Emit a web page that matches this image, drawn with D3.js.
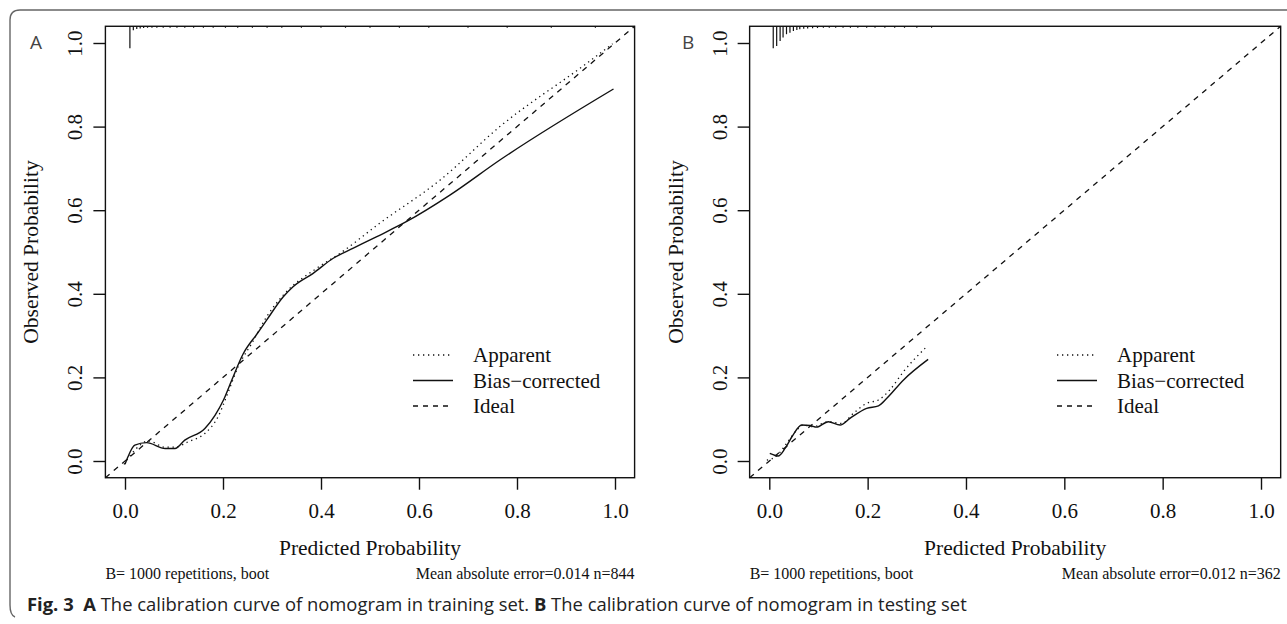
<!DOCTYPE html>
<html lang="en">
<head>
  <meta charset="UTF-8">
  <title>Calibration curves</title>
  <script src="https://d3js.org/d3.v7.min.js"></script>
  <style>
    body { margin: 0; background: #fff; }
    svg { display: block; }
  </style>
</head>
<body>
  <svg id="chart" width="1287" height="624"></svg>

  <script>
    // ---- data ----
    const ticks = [0, 0.2, 0.4, 0.6, 0.8, 1.0];
    const legendLabels = ['Apparent', 'Bias\u2212corrected', 'Ideal'];

    // panel A (training set)
    const apparentA = [
      [-0.002, -0.008], [0.020, 0.026], [0.048, 0.048], [0.082, 0.033], [0.102, 0.033],
      [0.129, 0.046], [0.163, 0.066], [0.190, 0.106], [0.211, 0.166], [0.231, 0.226],
      [0.259, 0.282], [0.289, 0.345], [0.323, 0.397], [0.391, 0.461], [0.439, 0.497],
      [0.520, 0.569], [0.643, 0.672], [0.765, 0.800], [0.942, 0.951], [0.995, 0.998]
    ];
    const biasA = [
      [0.000, -0.008], [0.006, 0.010], [0.020, 0.038], [0.044, 0.044], [0.082, 0.030],
      [0.102, 0.030], [0.122, 0.050], [0.163, 0.078], [0.184, 0.110], [0.201, 0.146],
      [0.218, 0.194], [0.241, 0.256], [0.270, 0.305], [0.289, 0.337], [0.323, 0.393],
      [0.343, 0.417], [0.384, 0.449], [0.425, 0.485], [0.466, 0.509], [0.514, 0.537],
      [0.575, 0.573], [0.663, 0.636], [0.765, 0.720], [0.997, 0.890]
    ];
    const rugA = [
      [0.010, 100], [0.017, 18], [0.024, 12], [0.031, 10], [0.038, 8], [0.046, 6],
      [0.055, 5], [0.065, 5], [0.078, 4], [0.092, 4], [0.106, 4], [0.122, 3],
      [0.140, 3], [0.160, 3], [0.180, 3], [0.205, 3], [0.230, 3], [0.260, 3],
      [0.290, 3], [0.320, 3], [0.360, 3], [0.400, 3], [0.450, 3], [0.500, 3],
      [0.560, 3], [0.620, 3], [0.700, 3], [0.780, 3], [0.870, 3], [0.960, 3]
    ];
    const footA = ['B= 1000 repetitions, boot', 'Mean absolute error=0.014 n=844'];

    // panel B (testing set)
    const apparentB = [
      [-0.005, 0.002], [0.015, 0.012], [0.035, 0.042], [0.056, 0.074], [0.069, 0.086],
      [0.089, 0.082], [0.120, 0.094], [0.147, 0.090], [0.171, 0.114], [0.198, 0.138],
      [0.222, 0.146], [0.245, 0.170], [0.273, 0.214], [0.317, 0.270]
    ];
    const biasB = [
      [0.001, 0.018], [0.018, 0.012], [0.032, 0.030], [0.046, 0.058], [0.066, 0.086],
      [0.083, 0.085], [0.096, 0.081], [0.120, 0.094], [0.144, 0.086], [0.164, 0.102],
      [0.198, 0.126], [0.222, 0.132], [0.239, 0.150], [0.273, 0.194], [0.323, 0.243]
    ];
    const rugB = [
      [0.008, 100], [0.015, 90], [0.022, 67], [0.028, 51], [0.035, 36], [0.042, 29],
      [0.049, 21], [0.056, 17], [0.062, 14], [0.070, 11], [0.078, 10], [0.088, 9],
      [0.098, 8], [0.110, 7], [0.122, 7], [0.135, 6], [0.150, 6], [0.165, 5],
      [0.180, 5], [0.198, 5], [0.215, 4], [0.235, 4], [0.255, 4], [0.275, 4],
      [0.300, 4], [0.330, 4]
    ];
    const footB = ['B= 1000 repetitions, boot', 'Mean absolute error=0.012 n=362'];

    const captionParts = [
      { t: 'Fig. 3', b: true }, { t: '\u00a0\u00a0A', b: true },
      { t: ' The calibration curve of nomogram in training set. ', b: false },
      { t: 'B', b: true }, { t: ' The calibration curve of nomogram in testing set', b: false }
    ];

    const svg = d3.select('#chart');
    const serif = '"Liberation Serif", "Times New Roman", serif';
    const ink = '#111';

    // outer frame (rounded, cut off on the right)
    svg.append('path')
      .attr('d', 'M15,617 Q10,615 10,605 L10,20 Q10,10 20,10 L1300,10')
      .attr('fill', 'none').attr('stroke', '#666').attr('stroke-width', 1.4);

    function drawPanel(opt) {
      const x = d3.scaleLinear().domain([0, 1]).range([opt.x0, opt.x1]);
      const y = d3.scaleLinear().domain([0, 1]).range([461, 43]);
      const lo = -0.04, hi = 1.04;
      const g = svg.append('g');

      // axes
      const xa = g.append('g')
        .attr('transform', `translate(0,${y(lo)})`)
        .call(d3.axisBottom(x).tickValues(ticks).tickSize(12).tickFormat(d3.format('.1f')));
      const ya = g.append('g')
        .attr('transform', `translate(${x(lo)},0)`)
        .call(d3.axisLeft(y).tickValues(ticks).tickSize(12).tickFormat(d3.format('.1f')));
      [xa, ya].forEach(a => {
        a.select('.domain').remove();
        a.selectAll('line').attr('stroke', ink).attr('stroke-width', 1.4);
        a.selectAll('text').attr('fill', ink).style('font-family', serif).style('font-size', '21px');
      });
      xa.selectAll('text').attr('y', 40).attr('dy', 0);
      ya.selectAll('text')
        .attr('x', 0).attr('y', 0).attr('dy', 0)
        .attr('text-anchor', 'middle')
        .attr('transform', 'translate(-23,0) rotate(-90)');

      // box
      g.append('rect')
        .attr('x', x(lo)).attr('y', y(hi))
        .attr('width', x(hi) - x(lo)).attr('height', y(lo) - y(hi))
        .attr('fill', 'none').attr('stroke', ink).attr('stroke-width', 1.4);

      // ideal line
      g.append('line')
        .attr('x1', x(lo)).attr('y1', y(lo)).attr('x2', x(hi)).attr('y2', y(hi))
        .attr('stroke', ink).attr('stroke-width', 1.3).attr('stroke-dasharray', '5.5,5.5');

      const line = d3.line().x(d => x(d[0])).y(d => y(d[1])).curve(d3.curveMonotoneX);
      g.append('path').attr('d', line(opt.apparent))
        .attr('fill', 'none').attr('stroke', ink).attr('stroke-width', 1.3)
        .attr('stroke-dasharray', '1.3,3.7');
      g.append('path').attr('d', line(opt.bias))
        .attr('fill', 'none').attr('stroke', ink).attr('stroke-width', 1.4);

      // rug of predicted probabilities along the top
      const len = d3.scaleLinear().domain([0, 100]).range([0, 22]);
      g.selectAll('line.rug').data(opt.rug).join('line')
        .attr('class', 'rug')
        .attr('x1', d => x(d[0])).attr('x2', d => x(d[0]))
        .attr('y1', y(hi)).attr('y2', d => y(hi) + Math.max(1.5, len(d[1])))
        .attr('stroke', ink).attr('stroke-width', 1.2);

      // legend
      const lg = g.append('g').attr('transform', `translate(${opt.legX},${opt.legY})`);
      const dashes = ['1.3,3.7', null, '5,5'];
      legendLabels.forEach((lab, i) => {
        lg.append('line')
          .attr('x1', 0).attr('x2', 40).attr('y1', i * 25.5).attr('y2', i * 25.5)
          .attr('stroke', ink).attr('stroke-width', 1.3)
          .attr('stroke-dasharray', dashes[i]);
        lg.append('text')
          .attr('x', 60).attr('y', i * 25.5 + 7)
          .style('font-family', serif).style('font-size', '21px').attr('fill', ink)
          .text(lab);
      });

      // axis titles
      g.append('text')
        .attr('x', (x(0) + x(1)) / 2).attr('y', 555)
        .attr('text-anchor', 'middle')
        .style('font-family', serif).style('font-size', '21.5px').attr('fill', ink)
        .text('Predicted Probability');
      g.append('text')
        .attr('transform', `translate(${x(lo) - 67},${(y(lo) + y(hi)) / 2}) rotate(-90)`)
        .attr('text-anchor', 'middle')
        .style('font-family', serif).style('font-size', '21.5px').attr('fill', ink)
        .text('Observed Probability');

      // footnotes
      g.append('text')
        .attr('x', x(lo)).attr('y', 579)
        .style('font-family', serif).style('font-size', '16px').attr('fill', ink)
        .text(opt.foot[0]);
      g.append('text')
        .attr('x', x(hi)).attr('y', 579).attr('text-anchor', 'end')
        .style('font-family', serif).style('font-size', '16px').attr('fill', ink)
        .text(opt.foot[1]);

      // panel letter
      g.append('text')
        .attr('x', opt.letterX).attr('y', 49)
        .style('font-family', '"Open Sans", sans-serif').style('font-size', '19px')
        .attr('fill', '#444')
        .text(opt.letter);
    }

    drawPanel({ x0: 125, x1: 615, apparent: apparentA, bias: biasA, rug: rugA,
      foot: footA, legX: 413, legY: 355, letter: 'A', letterX: 30 });
    drawPanel({ x0: 769.3, x1: 1261, apparent: apparentB, bias: biasB, rug: rugB,
      foot: footB, legX: 1057, legY: 355, letter: 'B', letterX: 682 });

    // caption
    const cap = svg.append('text')
      .attr('x', 27).attr('y', 611)
      .style('font-family', '"Open Sans", sans-serif').style('font-size', '16px')
      .attr('fill', '#222');
    cap.selectAll('tspan').data(captionParts).join('tspan')
      .style('font-weight', d => d.b ? 700 : 400)
      .text(d => d.t);
    // fit caption width to the figure (ends near x=967)
    const w = cap.node().getComputedTextLength();
    cap.style('font-size', (16 * 940 / w).toFixed(2) + 'px');
  </script>
</body>
</html>
